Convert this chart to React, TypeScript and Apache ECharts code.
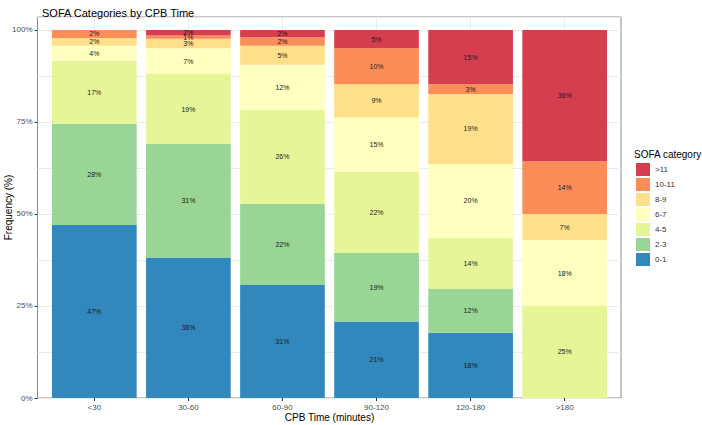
import React, { useEffect, useRef } from "react";
import * as echarts from "echarts";

const categories = ["<30", "30-60", "60-90", "90-120", "120-180", ">180"];
const sofaLevels = ["0-1", "2-3", "4-5", "6-7", "8-9", "10-11", ">11"];
const sofaColors = ["#3288BD", "#99D594", "#E6F598", "#FFFFBF", "#FEE08B", "#FC8D59", "#D53E4F"];

const pct01 = [47.0, 38.2, 30.7, 20.8, 17.7, 0];
const pct23 = [27.5, 30.8, 22.0, 18.6, 11.9, 0];
const pct45 = [17.1, 19.0, 25.6, 22.0, 13.9, 25.0];
const pct67 = [4.1, 7.0, 12.2, 14.8, 20.1, 17.9];
const pct89 = [2.1, 2.6, 5.2, 9.0, 19.0, 7.1];
const pct1011 = [2.2, 0.9, 2.3, 9.8, 2.6, 14.3];
const pct11 = [0, 1.5, 2.0, 5.0, 14.8, 35.7];

const seriesValues = [pct01, pct23, pct45, pct67, pct89, pct1011, pct11];
const yTicks = [0, 25, 50, 75, 100];

const FONT = "'Liberation Sans', Arial, sans-serif";

export default function App() {
  const ref = useRef<HTMLDivElement>(null);

  useEffect(() => {
    if (!ref.current) return;
    const chart = echarts.init(ref.current, null, { renderer: "svg" });
    const yMax = 103.5;
    const option: any = {
      animation: false,
      textStyle: { fontFamily: FONT },
      title: [
        {
          text: "SOFA Categories by CPB Time",
          left: 37,
          top: 2,
          textStyle: { fontSize: 11, fontWeight: "normal", color: "#000", fontFamily: FONT },
        },
        {
          text: "SOFA category",
          left: 634,
          top: 149,
          padding: 0,
          textStyle: { fontSize: 10, fontWeight: "normal", color: "#000", fontFamily: FONT },
        },
      ],
      legend: {
        data: sofaLevels.slice().reverse(),
        orient: "vertical",
        left: 636,
        top: 163,
        padding: 0,
        itemWidth: 14,
        itemHeight: 13,
        itemGap: 2,
        icon: "rect",
        selectedMode: false,
        textStyle: { fontSize: 8, color: "#333", fontFamily: FONT },
      },
      grid: [
        {
          left: 37.5,
          right: 81,
          top: 17,
          bottom: 27,
          show: true,
          borderColor: "#8a8a8a",
          borderWidth: 1,
          backgroundColor: "transparent",
          outerBoundsMode: "none",
          containLabel: false,
        },
        { left: 47.3, right: 90.3, top: 17, bottom: 27, outerBoundsMode: "none", containLabel: false },
      ],
      xAxis: [
        { gridIndex: 0, type: "value", min: 0, max: 1, show: false },
        {
          gridIndex: 1,
          type: "category",
          data: categories,
          axisLine: { show: false },
          axisTick: { show: true, alignWithLabel: true, length: 3, lineStyle: { color: "#333" } },
          splitLine: { show: true, alignWithLabel: true, lineStyle: { color: "#ebebeb", width: 1 } },
          axisLabel: { fontSize: 8, color: "#4d4d4d", margin: 5, fontFamily: FONT },
          name: "CPB Time (minutes)",
          nameLocation: "middle",
          nameGap: 14,
          nameMoveOverlap: false,
          nameTextStyle: { fontSize: 10, color: "#000", fontFamily: FONT },
        },
      ],
      yAxis: [
        {
          gridIndex: 0,
          type: "value",
          min: 0,
          max: yMax,
          interval: 12.5,
          position: "left",
          axisLabel: { show: false },
          axisTick: { show: false },
          axisLine: { show: false },
          splitLine: { show: true, lineStyle: { color: "#ebebeb", width: 1 } },
        },
        {
          gridIndex: 0,
          type: "value",
          min: 0,
          max: yMax,
          interval: 25,
          position: "left",
          offset: 0,
          axisLabel: {
            fontSize: 8,
            color: "#4d4d4d",
            margin: 5,
            showMaxLabel: false,
            fontFamily: FONT,
            formatter: (v: number) => (yTicks.includes(v) ? v + "%" : ""),
          },
          axisTick: { show: true, length: 3, lineStyle: { color: "#333" } },
          axisLine: { show: false },
          splitLine: { show: false },
          name: "Frequency (%)",
          nameLocation: "middle",
          nameGap: 24,
          nameMoveOverlap: false,
          nameRotate: 90,
          nameTextStyle: { fontSize: 10, color: "#000", fontFamily: FONT },
        },
        { gridIndex: 1, type: "value", min: 0, max: yMax, show: false },
      ],
      series: sofaLevels.map((lvl, i) => ({
        name: lvl,
        type: "bar",
        stack: "sofa",
        xAxisIndex: 1,
        yAxisIndex: 2,
        barCategoryGap: "10%",
        data: seriesValues[i],
        itemStyle: { color: sofaColors[i] },
        label: {
          show: true,
          position: "inside",
          fontSize: 7,
          color: "#1a1a1a",
          fontFamily: FONT,
          formatter: (p: any) => (p.value > 0 ? Math.round(p.value) + "%" : ""),
        },
      })),
    };
    chart.setOption(option);
    return () => chart.dispose();
  }, []);

  return (
    <div
      ref={ref}
      style={{ position: "absolute", left: 0, top: 0, width: 702, height: 425, background: "#fff" }}
    />
  );
}
